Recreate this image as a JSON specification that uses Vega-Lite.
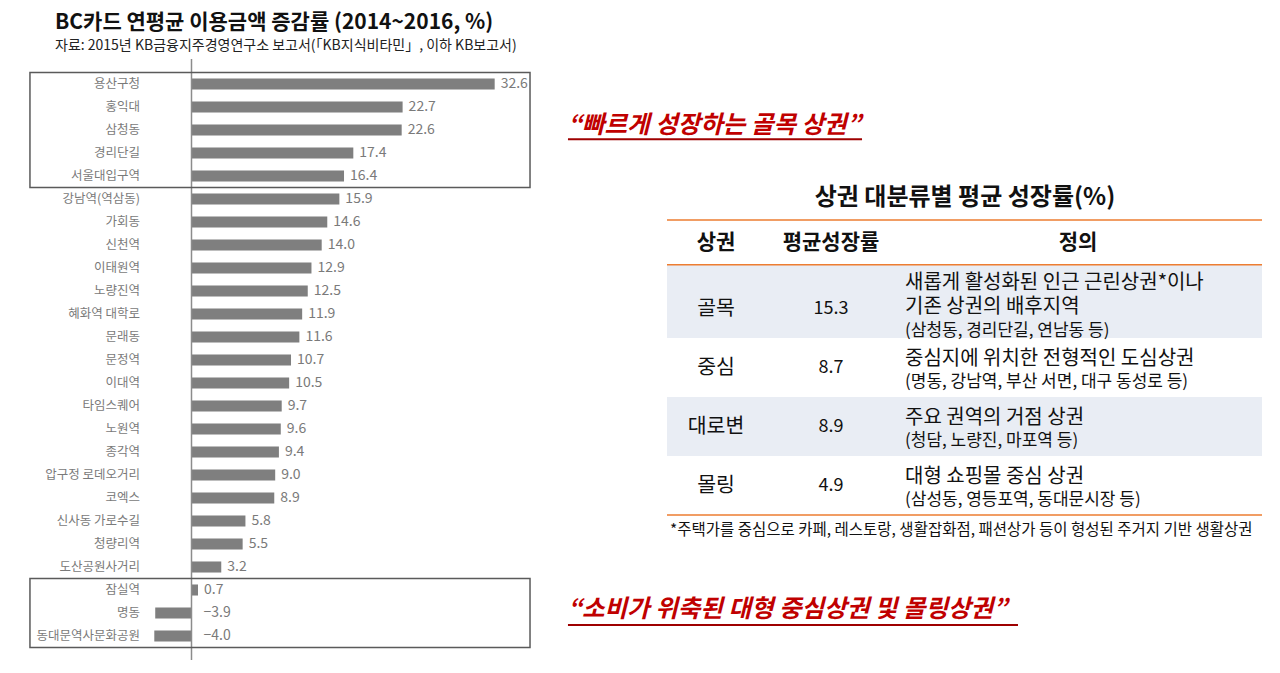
{
  "$schema": "https://vega.github.io/schema/vega-lite/v6.json",
  "autosize": "none",
  "padding": {"left": 0, "top": 60, "right": 0, "bottom": 0},
  "width": 1280,
  "height": 613,
  "background": "white",
  "title": {
    "text": "BC카드 연평균 이용금액 증감률 (2014~2016, %)",
    "subtitle": "자료: 2015년 KB금융지주경영연구소 보고서(「KB지식비타민」, 이하 KB보고서)",
    "anchor": "start",
    "frame": "group",
    "dx": 55,
    "offset": 5,
    "font": "Noto Sans CJK KR",
    "fontSize": 21,
    "fontWeight": "bold",
    "color": "#111111",
    "subtitleFont": "Noto Sans CJK KR",
    "subtitleFontSize": 14,
    "subtitleColor": "#222222",
    "subtitlePadding": 6
  },
  "config": {
    "view": {"stroke": null},
    "axis": {"disable": true},
    "font": "Noto Sans CJK KR",
    "text": {"font": "Noto Sans CJK KR"}
  },
  "datasets": {
    "bars": [
      {"지역": "용산구청", "증감률": 32.6},
      {"지역": "홍익대", "증감률": 22.7},
      {"지역": "삼청동", "증감률": 22.6},
      {"지역": "경리단길", "증감률": 17.4},
      {"지역": "서울대입구역", "증감률": 16.4},
      {"지역": "강남역(역삼동)", "증감률": 15.9},
      {"지역": "가회동", "증감률": 14.6},
      {"지역": "신천역", "증감률": 14.0},
      {"지역": "이태원역", "증감률": 12.9},
      {"지역": "노량진역", "증감률": 12.5},
      {"지역": "혜화역 대학로", "증감률": 11.9},
      {"지역": "문래동", "증감률": 11.6},
      {"지역": "문정역", "증감률": 10.7},
      {"지역": "이대역", "증감률": 10.5},
      {"지역": "타임스퀘어", "증감률": 9.7},
      {"지역": "노원역", "증감률": 9.6},
      {"지역": "종각역", "증감률": 9.4},
      {"지역": "압구정 로데오거리", "증감률": 9.0},
      {"지역": "코엑스", "증감률": 8.9},
      {"지역": "신사동 가로수길", "증감률": 5.8},
      {"지역": "청량리역", "증감률": 5.5},
      {"지역": "도산공원사거리", "증감률": 3.2},
      {"지역": "잠실역", "증감률": 0.7},
      {"지역": "명동", "증감률": -3.9},
      {"지역": "동대문역사문화공원", "증감률": -4.0}
    ],
    "boxes": [
      {"구역": "골목", "시작": "용산구청", "끝": "서울대입구역"},
      {"구역": "몰링", "시작": "잠실역", "끝": "동대문역사문화공원"}
    ],
    "notes": [
      {"구역": "골목", "문구": "“빠르게 성장하는 골목 상권”"},
      {"구역": "몰링", "문구": "“소비가 위축된 대형 중심상권 및 몰링상권”"}
    ],
    "axis0": [{"기준": 0}],
    "header": [{"상권": "상권", "평균성장률": "평균성장률", "정의": "정의"}],
    "table": [
      {"상권": "골목", "평균성장률": 15.3, "정의": "새롭게 활성화된 인근 근린상권*이나\n기존 상권의 배후지역", "예시": "(삼청동, 경리단길, 연남동 등)"},
      {"상권": "중심", "평균성장률": 8.7, "정의": "중심지에 위치한 전형적인 도심상권", "예시": "(명동, 강남역, 부산 서면, 대구 동성로 등)"},
      {"상권": "대로변", "평균성장률": 8.9, "정의": "주요 권역의 거점 상권", "예시": "(청담, 노량진, 마포역 등)"},
      {"상권": "몰링", "평균성장률": 4.9, "정의": "대형 쇼핑몰 중심 상권", "예시": "(삼성동, 영등포역, 동대문시장 등)"}
    ],
    "tableText": [
      {"제목": "상권 대분류별 평균 성장률(%)", "주석": "*주택가를 중심으로 카페, 레스토랑, 생활잡화점, 패션상가 등이 형성된 주거지 기반 생활상권"}
    ]
  },
  "layer": [
    {
      "data": {"name": "bars"},
      "layer": [
        {
          "mark": {"type": "bar", "color": "#7f7f7f", "height": {"band": 0.48}},
          "encoding": {
            "y": {
              "field": "지역", "type": "nominal", "axis": null,
              "scale": {
                "domain": ["용산구청", "홍익대", "삼청동", "경리단길", "서울대입구역", "강남역(역삼동)", "가회동", "신천역", "이태원역", "노량진역", "혜화역 대학로", "문래동", "문정역", "이대역", "타임스퀘어", "노원역", "종각역", "압구정 로데오거리", "코엑스", "신사동 가로수길", "청량리역", "도산공원사거리", "잠실역", "명동", "동대문역사문화공원"],
                "paddingInner": 0, "paddingOuter": 0.8261, "align": 0.3289
              }
            },
            "x": {
              "field": "증감률", "type": "quantitative", "axis": null,
              "scale": {"domain": [-20.591, 117.043], "nice": false, "zero": false}
            }
          }
        },
        {
          "mark": {"type": "text", "align": "right", "baseline": "middle", "fontSize": 12.5, "color": "#7a7a7a"},
          "encoding": {
            "y": {"field": "지역", "type": "nominal"},
            "x": {"datum": -5.54, "type": "quantitative"},
            "text": {"field": "지역"}
          }
        },
        {
          "transform": [{"filter": "datum['증감률'] >= 0"}],
          "mark": {"type": "text", "align": "left", "baseline": "middle", "dx": 6, "fontSize": 14, "color": "#7a7a7a"},
          "encoding": {
            "y": {"field": "지역", "type": "nominal"},
            "x": {"field": "증감률", "type": "quantitative"},
            "text": {"field": "증감률", "type": "quantitative", "format": ".1f"}
          }
        },
        {
          "transform": [{"filter": "datum['증감률'] < 0"}],
          "mark": {"type": "text", "align": "left", "baseline": "middle", "dx": 12, "fontSize": 14, "color": "#7a7a7a"},
          "encoding": {
            "y": {"field": "지역", "type": "nominal"},
            "x": {"datum": 0, "type": "quantitative"},
            "text": {"field": "증감률", "type": "quantitative", "format": ".1f"}
          }
        },
        {
          "data": {"name": "axis0"},
          "mark": {"type": "rule", "color": "#8c8c8c", "strokeWidth": 1.5},
          "encoding": {
            "x": {"field": "기준", "type": "quantitative"},
            "y": {"datum": "용산구청", "type": "nominal", "bandPosition": -0.587},
            "y2": {"datum": "동대문역사문화공원", "bandPosition": 1.54}
          }
        },
        {
          "data": {"name": "boxes"},
          "mark": {"type": "rect", "filled": false, "color": "#5a5a5a", "strokeWidth": 1.5},
          "encoding": {
            "x": {"datum": -17.37, "type": "quantitative"},
            "x2": {"datum": 36.4},
            "y": {"field": "시작", "type": "nominal", "bandPosition": 0},
            "y2": {"field": "끝", "bandPosition": 1}
          }
        },
        {
          "data": {"name": "notes"},
          "transform": [{"filter": "datum['구역'] === '골목'"}],
          "mark": {"type": "text", "align": "left", "baseline": "middle", "dy": -4, "fontSize": 24.5, "fontStyle": "italic", "fontWeight": "bold", "color": "#c00000"},
          "encoding": {
            "x": {"datum": 40.48, "type": "quantitative"},
            "y": {"datum": "삼청동", "type": "nominal"},
            "text": {"field": "문구"}
          }
        },
        {
          "data": {"name": "notes"},
          "transform": [{"filter": "datum['구역'] === '골목'"}],
          "mark": {"type": "rule", "color": "#9e0000", "strokeWidth": 2},
          "encoding": {
            "x": {"datum": 40.48, "type": "quantitative"},
            "x2": {"datum": 72.1},
            "y": {"datum": "삼청동", "type": "nominal", "bandPosition": 0.9}
          }
        },
        {
          "data": {"name": "notes"},
          "transform": [{"filter": "datum['구역'] === '몰링'"}],
          "mark": {"type": "text", "align": "left", "baseline": "middle", "dy": -3, "fontSize": 24.5, "fontStyle": "italic", "fontWeight": "bold", "color": "#c00000"},
          "encoding": {
            "x": {"datum": 40.48, "type": "quantitative"},
            "y": {"datum": "명동", "type": "nominal"},
            "text": {"field": "문구"}
          }
        },
        {
          "data": {"name": "notes"},
          "transform": [{"filter": "datum['구역'] === '몰링'"}],
          "mark": {"type": "rule", "color": "#9e0000", "strokeWidth": 2},
          "encoding": {
            "x": {"datum": 40.48, "type": "quantitative"},
            "x2": {"datum": 88.87},
            "y": {"datum": "명동", "type": "nominal", "bandPosition": 1.02}
          }
        }
      ]
    },
    {
      "data": {"name": "table"},
      "layer": [
        {
          "transform": [{"filter": "datum['상권'] === '골목'"}],
          "mark": {"type": "rect", "color": "#e9edf4"},
          "encoding": {
            "x": {"datum": 51.13, "type": "quantitative", "axis": null, "scale": {"domain": [-20.591, 117.043], "nice": false, "zero": false}},
            "x2": {"datum": 115.11},
            "y": {
              "field": "상권", "type": "nominal", "bandPosition": -0.24, "axis": null,
              "scale": {"domain": ["상권", "골목", "중심", "대로변", "몰링"], "paddingInner": 0, "paddingOuter": 0, "range": [160, 455]}
            },
            "y2": {"field": "상권", "bandPosition": 1}
          }
        },
        {
          "transform": [{"filter": "datum['상권'] === '대로변'"}],
          "mark": {"type": "rect", "color": "#e9edf4"},
          "encoding": {
            "x": {"datum": 51.13, "type": "quantitative"},
            "x2": {"datum": 115.11},
            "y": {"field": "상권", "type": "nominal", "bandPosition": 0},
            "y2": {"field": "상권", "bandPosition": 1}
          }
        },
        {
          "data": {"name": "header"},
          "mark": {"type": "rule", "color": "#ed7d31", "strokeWidth": 1.5},
          "encoding": {
            "x": {"datum": 51.13, "type": "quantitative"},
            "x2": {"datum": 115.11},
            "y": {"field": "상권", "type": "nominal", "bandPosition": 0}
          }
        },
        {
          "transform": [{"filter": "datum['상권'] === '골목'"}],
          "mark": {"type": "rule", "color": "#ed7d31", "strokeWidth": 1.5},
          "encoding": {
            "x": {"datum": 51.13, "type": "quantitative"},
            "x2": {"datum": 115.11},
            "y": {"field": "상권", "type": "nominal", "bandPosition": -0.24}
          }
        },
        {
          "transform": [{"filter": "datum['상권'] === '몰링'"}],
          "mark": {"type": "rule", "color": "#ed7d31", "strokeWidth": 1.5},
          "encoding": {
            "x": {"datum": 51.13, "type": "quantitative"},
            "x2": {"datum": 115.11},
            "y": {"field": "상권", "type": "nominal", "bandPosition": 1}
          }
        },
        {
          "data": {"name": "header"},
          "mark": {"type": "text", "align": "center", "baseline": "middle", "dy": -6.5, "fontSize": 21, "fontWeight": "bold", "color": "#111111"},
          "encoding": {
            "x": {"datum": 56.4, "type": "quantitative"},
            "y": {"field": "상권", "type": "nominal"},
            "text": {"field": "상권"}
          }
        },
        {
          "data": {"name": "header"},
          "mark": {"type": "text", "align": "center", "baseline": "middle", "dy": -6.5, "fontSize": 21, "fontWeight": "bold", "color": "#111111"},
          "encoding": {
            "x": {"datum": 68.76, "type": "quantitative"},
            "y": {"field": "상권", "type": "nominal"},
            "text": {"field": "평균성장률"}
          }
        },
        {
          "data": {"name": "header"},
          "mark": {"type": "text", "align": "center", "baseline": "middle", "dy": -6.5, "fontSize": 21, "fontWeight": "bold", "color": "#111111"},
          "encoding": {
            "x": {"datum": 95.32, "type": "quantitative"},
            "y": {"field": "상권", "type": "nominal"},
            "text": {"field": "정의"}
          }
        },
        {
          "mark": {"type": "text", "align": "center", "baseline": "middle", "fontSize": 20.5, "color": "#111111"},
          "encoding": {
            "x": {"datum": 56.4, "type": "quantitative"},
            "y": {"field": "상권", "type": "nominal"},
            "text": {"field": "상권"}
          }
        },
        {
          "mark": {"type": "text", "align": "center", "baseline": "middle", "fontSize": 18, "color": "#111111"},
          "encoding": {
            "x": {"datum": 68.76, "type": "quantitative"},
            "y": {"field": "상권", "type": "nominal"},
            "text": {"field": "평균성장률", "type": "quantitative", "format": ".1f"}
          }
        },
        {
          "transform": [{"filter": "datum['상권'] === '골목'"}],
          "mark": {"type": "text", "align": "left", "baseline": "middle", "dy": -26, "fontSize": 20, "lineBreak": "\n", "lineHeight": 24, "color": "#111111"},
          "encoding": {
            "x": {"datum": 76.72, "type": "quantitative"},
            "y": {"field": "상권", "type": "nominal"},
            "text": {"field": "정의"}
          }
        },
        {
          "transform": [{"filter": "datum['상권'] !== '골목'"}],
          "mark": {"type": "text", "align": "left", "baseline": "middle", "dy": -9, "fontSize": 20, "color": "#111111"},
          "encoding": {
            "x": {"datum": 76.72, "type": "quantitative"},
            "y": {"field": "상권", "type": "nominal"},
            "text": {"field": "정의"}
          }
        },
        {
          "transform": [{"filter": "datum['상권'] === '골목'"}],
          "mark": {"type": "text", "align": "left", "baseline": "middle", "dy": 22, "fontSize": 17, "color": "#111111"},
          "encoding": {
            "x": {"datum": 76.72, "type": "quantitative"},
            "y": {"field": "상권", "type": "nominal"},
            "text": {"field": "예시"}
          }
        },
        {
          "transform": [{"filter": "datum['상권'] !== '골목'"}],
          "mark": {"type": "text", "align": "left", "baseline": "middle", "dy": 14, "fontSize": 17, "color": "#111111"},
          "encoding": {
            "x": {"datum": 76.72, "type": "quantitative"},
            "y": {"field": "상권", "type": "nominal"},
            "text": {"field": "예시"}
          }
        },
        {
          "data": {"name": "tableText"},
          "mark": {"type": "text", "align": "center", "baseline": "middle", "dy": -22, "fontSize": 24, "fontWeight": "bold", "color": "#111111"},
          "encoding": {
            "x": {"datum": 83.17, "type": "quantitative"},
            "y": {"datum": "상권", "type": "nominal", "bandPosition": 0},
            "text": {"field": "제목"}
          }
        },
        {
          "data": {"name": "tableText"},
          "mark": {"type": "text", "align": "left", "baseline": "middle", "dy": 15, "fontSize": 15.5, "color": "#111111"},
          "encoding": {
            "x": {"datum": 51.45, "type": "quantitative"},
            "y": {"datum": "몰링", "type": "nominal", "bandPosition": 1},
            "text": {"field": "주석"}
          }
        }
      ]
    }
  ],
  "resolve": {"scale": {"x": "independent", "y": "independent"}}
}
